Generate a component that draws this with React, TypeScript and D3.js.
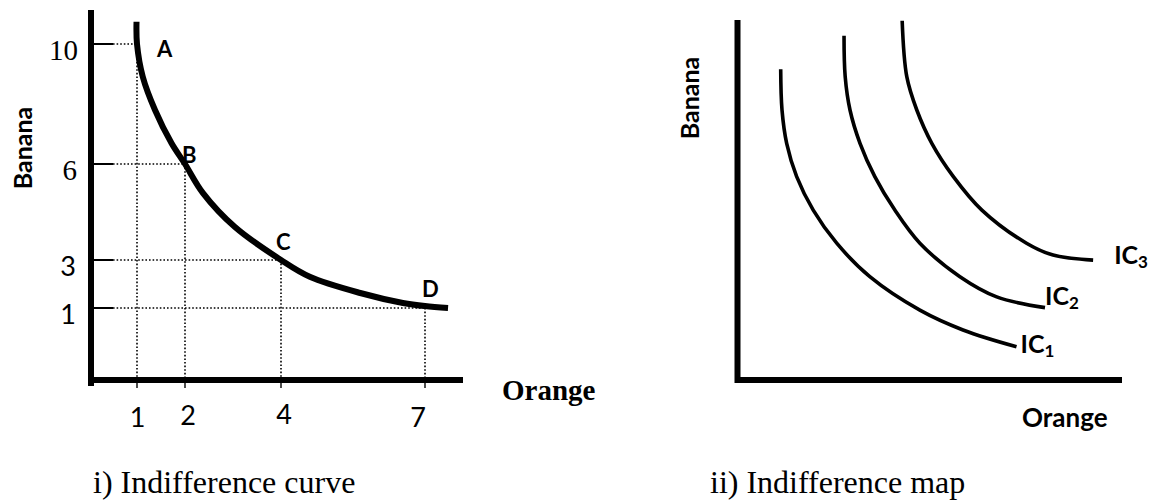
import React from "react";
import * as d3 from "d3";

// ---------- Data: left panel (single indifference curve) ----------
const orangeTicks = [1, 2, 4, 7];
const bananaTicks = [10, 6, 3, 1];
const bundles = [
  { label: "A", orange: 1, banana: 10 },
  { label: "B", orange: 2, banana: 6 },
  { label: "C", orange: 4, banana: 3 },
  { label: "D", orange: 7, banana: 1 },
];
// traced points of the curve (orange, banana)
const icCurve: [number, number][] = [
  [0.99, 10.74], [1, 10], [1.12, 8.91], [1.375, 7.8], [1.72, 6.69], [2, 6],
  [2.375, 5.09], [3.04, 4.03], [4, 3], [4.6, 2.3], [5.65, 1.625], [6.54, 1.21],
  [7, 1.08], [7.48, 1.0],
];

// ---------- Data: right panel (indifference map), units 0-100 ----------
const ic1: [number, number][] = [
  [11.35, 86.3], [11.69, 75.0], [12.9, 65.75], [15.5, 56.5], [19.8, 47.2], [25.9, 38.0],
  [34.5, 28.7], [47.5, 19.4], [58.7, 13.9], [72.6, 9.25],
];
const ic2: [number, number][] = [
  [27.8, 95.6], [28.1, 84.25], [29.35, 75.0], [31.95, 65.75], [35.8, 56.5], [41.0, 47.2],
  [47.5, 38.0], [57.9, 28.7], [67.45, 23.1], [80.0, 20.1],
];
const ic3: [number, number][] = [
  [42.9, 99.8], [44.1, 84.25], [46.7, 75.0], [50.6, 65.75], [56.2, 56.5], [63.6, 47.2],
  [75.2, 38.0], [82.1, 34.7], [92.5, 33.3],
];
const icNames = ["1", "2", "3"];

const SANS = "Lato, 'Open Sans', sans-serif";
const SERIF = "'Liberation Serif', 'Times New Roman', serif";

export default function App() {
  // left scales
  const xL = d3.scaleLinear().domain([0, 8]).range([89, 473]);
  const yL = d3.scaleLinear().domain([0, 1, 3, 6, 10]).range([380, 308, 260, 164, 44]);
  const lineL = d3
    .line<[number, number]>()
    .x((d) => xL(d[0]))
    .y((d) => yL(d[1]))
    .curve(d3.curveCatmullRom.alpha(0.5));

  // right scales
  const xR = d3.scaleLinear().domain([0, 100]).range([737, 1122]);
  const yR = d3.scaleLinear().domain([0, 100]).range([380, 20]);
  const lineR = d3
    .line<[number, number]>()
    .x((d) => xR(d[0]))
    .y((d) => yR(d[1]))
    .curve(d3.curveCatmullRom.alpha(0.5));

  const axisL = { x0: xL(0) + 2, y0: yL(0) };
  const yTickFont: Record<number, string> = { 10: SERIF, 6: SERIF, 3: SANS, 1: SANS };
  const yTickSize: Record<number, number> = { 10: 29, 6: 29, 3: 27, 1: 27 };
  const yTickX: Record<number, [number, string]> = {
    10: [78, "end"], 6: [77, "end"], 3: [68, "middle"], 1: [68, "middle"],
  };
  const xTickDx: Record<number, number> = { 1: 0.5, 2: 3, 4: 3, 7: -7 };
  const xTickBase: Record<number, number> = { 1: 427, 2: 425, 4: 424, 7: 427 };
  const labelOff: Record<string, [number, number]> = {
    A: [20, 13], B: [-3, -1], C: [-5, -10], D: [-3, -11],
  };

  const curves = [ic1, ic2, ic3];
  const icLabelOff: [number, number][] = [[4, 6], [0, -3], [21, 4]];

  return (
    <svg
      width={1150}
      height={504}
      style={{ position: "absolute", left: 0, top: 0, background: "#fff" }}
    >
      {/* ---------- LEFT PANEL ---------- */}
      {bundles.map((b) => (
        <g key={"g" + b.label}>
          <line
            x1={113}
            x2={xL(b.orange)}
            y1={yL(b.banana)}
            y2={yL(b.banana)}
            stroke="#000"
            strokeWidth={1.6}
            strokeDasharray="1.6 2"
          />
          <line
            x1={xL(b.orange)}
            x2={xL(b.orange)}
            y1={yL(b.banana)}
            y2={axisL.y0}
            stroke="#000"
            strokeWidth={1.6}
            strokeDasharray="1.6 2"
          />
          <line
            x1={xL(b.orange)}
            x2={xL(b.orange)}
            y1={axisL.y0}
            y2={axisL.y0 + 8}
            stroke="#000"
            strokeWidth={1.4}
          />
        </g>
      ))}
      {bananaTicks.map((t) => (
        <line
          key={"yt" + t}
          x1={axisL.x0}
          x2={113}
          y1={yL(t)}
          y2={yL(t)}
          stroke="#000"
          strokeWidth={2}
        />
      ))}
      <line x1={axisL.x0} x2={axisL.x0} y1={10} y2={386} stroke="#000" strokeWidth={6} />
      <line x1={88} x2={463} y1={axisL.y0} y2={axisL.y0} stroke="#000" strokeWidth={6} />
      <path d={lineL(icCurve) || ""} fill="none" stroke="#000" strokeWidth={6} />
      {bundles.map((b) => (
        <text
          key={"l" + b.label}
          x={xL(b.orange) + labelOff[b.label][0]}
          y={yL(b.banana) + labelOff[b.label][1]}
          fontFamily={SANS}
          fontWeight="bold"
          fontSize={22}
        >
          {b.label}
        </text>
      ))}
      {bananaTicks.map((t) => (
        <text
          key={"yl" + t}
          x={yTickX[t][0]}
          y={yL(t) + 16}
          textAnchor={yTickX[t][1] as any}
          fontFamily={yTickFont[t]}
          fontSize={yTickSize[t]}
        >
          {t}
        </text>
      ))}
      {orangeTicks.map((t) => (
        <text
          key={"xl" + t}
          x={xL(t) + xTickDx[t]}
          y={xTickBase[t]}
          textAnchor="middle"
          fontFamily={SANS}
          fontSize={27}
        >
          {t}
        </text>
      ))}
      <text
        transform="translate(32,148) rotate(-90)"
        textAnchor="middle"
        fontFamily={SANS}
        fontWeight="bold"
        fontSize={25}
      >
        Banana
      </text>
      <text x={502} y={400} fontFamily={SERIF} fontWeight="bold" fontSize={29}>
        Orange
      </text>
      <text x={93} y={493} fontFamily={SERIF} fontSize={32}>
        i) Indifference curve
      </text>

      {/* ---------- RIGHT PANEL ---------- */}
      <line x1={737.5} x2={737.5} y1={20} y2={383} stroke="#000" strokeWidth={6} />
      <line x1={735} x2={1122} y1={380} y2={380} stroke="#000" strokeWidth={6} />
      {curves.map((c, i) => {
        const end = c[c.length - 1];
        return (
          <g key={"ic" + i}>
            <path d={lineR(c) || ""} fill="none" stroke="#000" strokeWidth={3.6} />
            <text
              x={xR(end[0]) + icLabelOff[i][0]}
              y={yR(end[1]) + icLabelOff[i][1]}
              fontFamily={SANS}
              fontWeight="bold"
              fontSize={25}
            >
              IC
              <tspan fontSize={17} dy={4}>
                {icNames[i]}
              </tspan>
            </text>
          </g>
        );
      })}
      <text
        transform="translate(699,98) rotate(-90)"
        textAnchor="middle"
        fontFamily={SANS}
        fontWeight="bold"
        fontSize={25}
      >
        Banana
      </text>
      <text x={1022} y={427} fontFamily={SANS} fontWeight="bold" fontSize={26}>
        Orange
      </text>
      <text x={710} y={493} fontFamily={SERIF} fontSize={32}>
        ii) Indifference map
      </text>
    </svg>
  );
}
